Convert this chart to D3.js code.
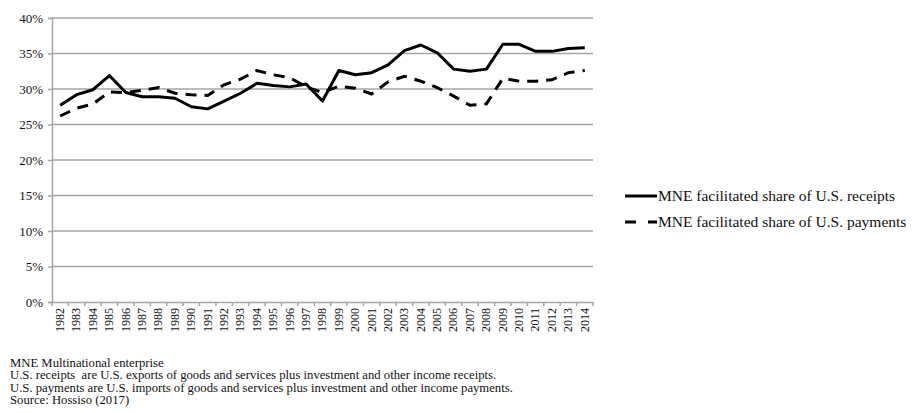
<!DOCTYPE html>
<html>
<head>
<meta charset="utf-8">
<script src="https://cdn.jsdelivr.net/npm/d3@7"></script>
<style>
  body { margin: 0; background: #fff; }
  svg text { font-family: "Liberation Serif", "Times New Roman", serif; fill: #111; }
</style>
</head>
<body>
<script>
// years on the x axis
const years = d3.range(1982, 2015).map(String);
// MNE facilitated share of U.S. receipts (%)
const receipts = [27.7, 29.2, 29.9, 31.9, 29.5, 28.9, 28.9, 28.7, 27.5, 27.2, 28.3, 29.4, 30.8, 30.5, 30.3, 30.7, 28.3,
  32.6, 32.0, 32.3, 33.4, 35.4, 36.2, 35.1, 32.8, 32.5, 32.8, 36.3, 36.3, 35.3, 35.3, 35.7, 35.8];
// MNE facilitated share of U.S. payments (%)
const payments = [26.2, 27.3, 27.9, 29.6, 29.5, 29.8, 30.2, 29.4, 29.2, 29.1, 30.6, 31.4, 32.6, 32.0, 31.6, 30.3, 29.5,
  30.4, 30.1, 29.3, 31.0, 31.8, 31.1, 30.2, 29.0, 27.7, 27.9, 31.5, 31.1, 31.1, 31.3, 32.3, 32.6];
const yTicks = [0, 5, 10, 15, 20, 25, 30, 35, 40];
const seriesNames = ["MNE facilitated share of U.S. receipts", "MNE facilitated share of U.S. payments"];
const notes = [
  "MNE Multinational enterprise",
  "U.S. receipts  are U.S. exports of goods and services plus investment and other income receipts.",
  "U.S. payments are U.S. imports of goods and services plus investment and other income payments.",
  "Source: Hossiso (2017)"
];

const W = 917, H = 413;
const plot = {left: 52, right: 593, top: 18, bot: 302};

const svg = d3.select("body").append("svg").attr("width", W).attr("height", H);

const x = d3.scaleBand().domain(years).range([plot.left, plot.right]);
const y = d3.scaleLinear().domain([0, 40]).range([plot.bot, plot.top]);

// gridlines
svg.append("g").selectAll("line").data(yTicks.filter(d => d > 0)).enter().append("line")
  .attr("x1", plot.left).attr("x2", plot.right)
  .attr("y1", d => y(d)).attr("y2", d => y(d))
  .attr("stroke", "#a6a6a6").attr("stroke-width", 1.5);

// y axis
const yAxis = svg.append("g").attr("transform", `translate(${plot.left},0)`)
  .call(d3.axisLeft(y).tickValues(yTicks).tickFormat(d => d + "%").tickSize(4).tickPadding(5));
yAxis.select(".domain").attr("stroke", "#a6a6a6").attr("stroke-width", 1.5);
yAxis.selectAll(".tick line").attr("stroke", "#a6a6a6").attr("stroke-width", 1.5);
yAxis.selectAll("text").style("font-size", "13px").style("font-family", "Liberation Serif").attr("fill", "#222");

// x axis with tick marks at category boundaries
const xAxis = svg.append("g").attr("transform", `translate(0,${plot.bot})`)
  .call(d3.axisBottom(x).tickSize(0).tickPadding(0));
xAxis.select(".domain").attr("stroke", "#a6a6a6").attr("stroke-width", 1.5);
xAxis.selectAll("text")
  .style("font-size", "12px").style("font-family", "Liberation Serif").attr("fill", "#222")
  .attr("transform", "rotate(-90)")
  .attr("x", -6).attr("y", 0).attr("dy", "0.32em")
  .attr("text-anchor", "end");
svg.append("g").selectAll("line").data(years.concat(["end"])).enter().append("line")
  .attr("x1", (d, i) => plot.left + i * x.step()).attr("x2", (d, i) => plot.left + i * x.step())
  .attr("y1", plot.bot).attr("y2", plot.bot + 4)
  .attr("stroke", "#a6a6a6").attr("stroke-width", 1.5);

// lines
const line = d3.line().x((d, i) => x(years[i]) + x.bandwidth() / 2).y(d => y(d));
svg.append("path").datum(receipts).attr("d", line)
  .attr("fill", "none").attr("stroke", "#000").attr("stroke-width", 3).attr("stroke-linejoin", "round");
svg.append("path").datum(payments).attr("d", line)
  .attr("fill", "none").attr("stroke", "#000").attr("stroke-width", 3).attr("stroke-dasharray", "11,8");

// legend
const leg = svg.append("g");
[0, 1].forEach(i => {
  const ly = 196 + i * 26;
  leg.append("line").attr("x1", 625).attr("x2", 657).attr("y1", ly).attr("y2", ly)
    .attr("stroke", "#000").attr("stroke-width", 3)
    .attr("stroke-dasharray", i === 1 ? "11,12" : null);
  leg.append("text").attr("x", 658).attr("y", ly).attr("dy", "0.35em")
    .style("font-size", "15.5px").text(seriesNames[i]);
});

// notes
svg.append("g").selectAll("text").data(notes).enter().append("text")
  .attr("x", 10).attr("y", (d, i) => 367 + i * 12.3)
  .style("font-size", "12.7px").style("white-space", "pre")
  .text(d => d);
</script>
</body>
</html>
